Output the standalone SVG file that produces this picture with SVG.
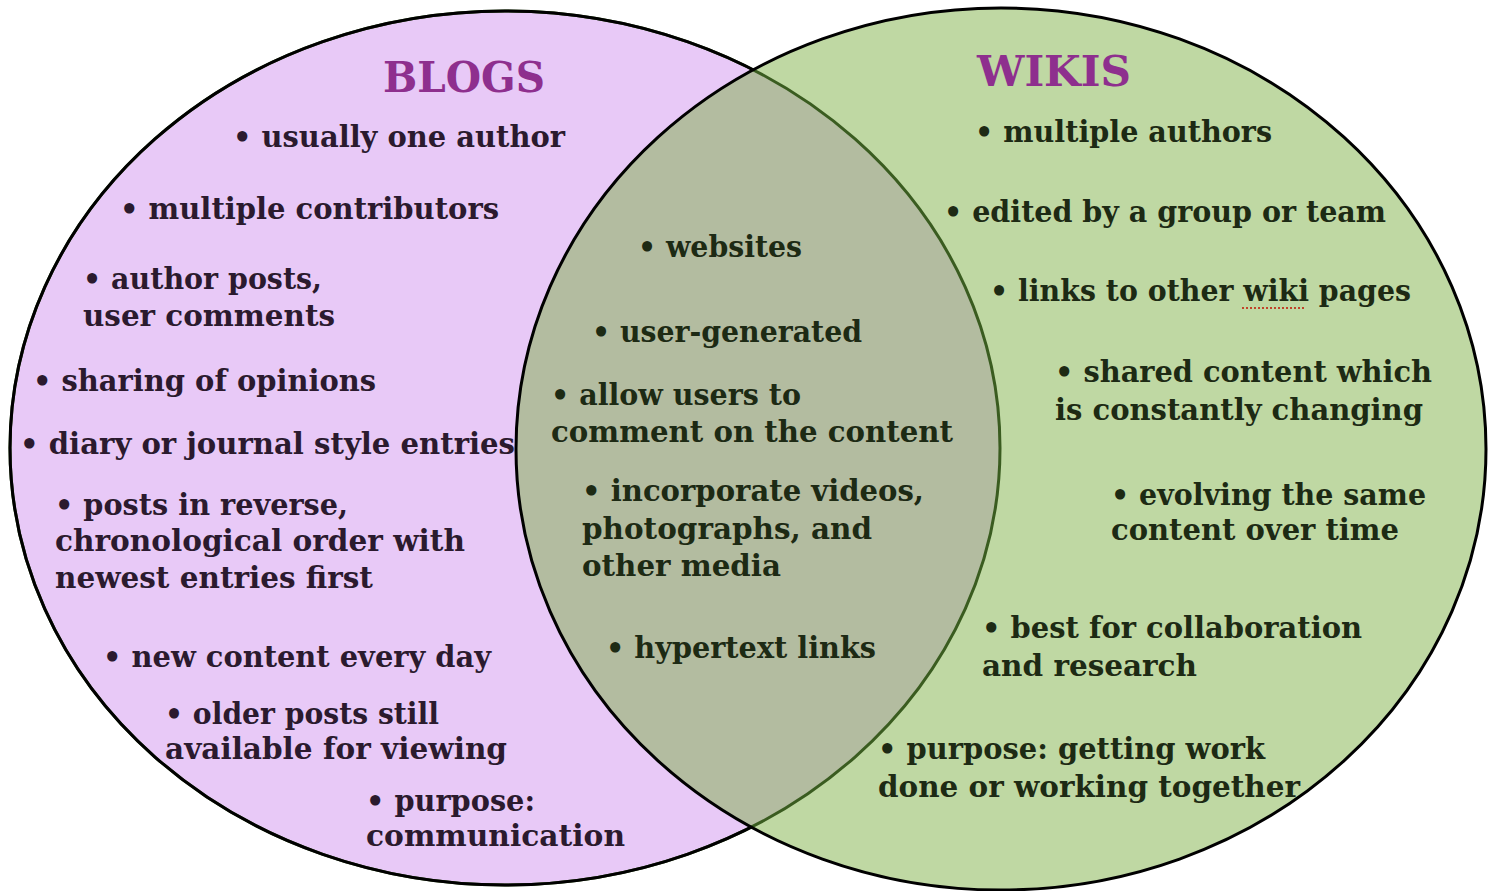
<svg xmlns="http://www.w3.org/2000/svg" width="1489" height="891" viewBox="0 0 1489 891">
<style>
.t{font-family:"DejaVu Serif","Liberation Serif",serif;font-weight:bold;font-size:29px}
.p{fill:#2b1a2e}
.g{fill:#1d2a14}
.h{font-family:"DejaVu Serif","Liberation Serif",serif;font-weight:bold;font-size:42px;fill:#8e2f8e}
</style>
<defs>
<clipPath id="inLeft"><ellipse cx="505" cy="448" rx="495" ry="437"/></clipPath>
<clipPath id="outRight"><path clip-rule="evenodd" d="M0,0 H1489 V891 H0 Z M516,449 a485,441 0 1,0 970,0 a485,441 0 1,0 -970,0 Z"/></clipPath>
</defs>
<g id="shapes">
<ellipse id="blogs-circle" cx="505" cy="448" rx="495" ry="437" fill="#e8c9f7"/>
<ellipse id="wikis-circle" cx="1001" cy="449" rx="485" ry="441" fill="#bfd8a3"/>
<ellipse id="overlap" cx="1001" cy="449" rx="485" ry="441" fill="#b3bca0" clip-path="url(#inLeft)"/>
<ellipse cx="505" cy="448" rx="495" ry="437" fill="none" stroke="#3a5c20" stroke-width="3"/>
<ellipse cx="505" cy="448" rx="495" ry="437" fill="none" stroke="#000" stroke-width="3" clip-path="url(#outRight)"/>
<ellipse cx="1001" cy="449" rx="485" ry="441" fill="none" stroke="#000" stroke-width="3"/>
</g>
<g id="blogs">
<text class="h" x="383" y="92" textLength="162" lengthAdjust="spacingAndGlyphs">BLOGS</text>
<text class="t p" x="233" y="147" textLength="332" lengthAdjust="spacingAndGlyphs">• usually one author</text>
<text class="t p" x="120" y="219" textLength="379" lengthAdjust="spacingAndGlyphs">• multiple contributors</text>
<text class="t p" x="83" y="289" textLength="239" lengthAdjust="spacingAndGlyphs">• author posts,</text>
<text class="t p" x="83" y="326" textLength="252" lengthAdjust="spacingAndGlyphs">user comments</text>
<text class="t p" x="33" y="391" textLength="343" lengthAdjust="spacingAndGlyphs">• sharing of opinions</text>
<text class="t p" x="20" y="454" textLength="495" lengthAdjust="spacingAndGlyphs">• diary or journal style entries</text>
<text class="t p" x="55" y="515" textLength="293" lengthAdjust="spacingAndGlyphs">• posts in reverse,</text>
<text class="t p" x="55" y="551" textLength="410" lengthAdjust="spacingAndGlyphs">chronological order with</text>
<text class="t p" x="55" y="588" textLength="318" lengthAdjust="spacingAndGlyphs">newest entries first</text>
<text class="t p" x="103" y="667" textLength="388" lengthAdjust="spacingAndGlyphs">• new content every day</text>
<text class="t p" x="165" y="724" textLength="274" lengthAdjust="spacingAndGlyphs">• older posts still</text>
<text class="t p" x="165" y="759" textLength="342" lengthAdjust="spacingAndGlyphs">available for viewing</text>
<text class="t p" x="366" y="811" textLength="169" lengthAdjust="spacingAndGlyphs">• purpose:</text>
<text class="t p" x="366" y="846" textLength="259" lengthAdjust="spacingAndGlyphs">communication</text>
</g>
<g id="both">
<text class="t g" x="638" y="257" textLength="164" lengthAdjust="spacingAndGlyphs">• websites</text>
<text class="t g" x="592" y="342" textLength="270" lengthAdjust="spacingAndGlyphs">• user-generated</text>
<text class="t g" x="551" y="405" textLength="250" lengthAdjust="spacingAndGlyphs">• allow users to</text>
<text class="t g" x="551" y="442" textLength="402" lengthAdjust="spacingAndGlyphs">comment on the content</text>
<text class="t g" x="582" y="501" textLength="342" lengthAdjust="spacingAndGlyphs">• incorporate videos,</text>
<text class="t g" x="582" y="539" textLength="290" lengthAdjust="spacingAndGlyphs">photographs, and</text>
<text class="t g" x="582" y="576" textLength="199" lengthAdjust="spacingAndGlyphs">other media</text>
<text class="t g" x="606" y="658" textLength="270" lengthAdjust="spacingAndGlyphs">• hypertext links</text>
</g>
<g id="wikis">
<text class="h" x="977" y="86" textLength="154" lengthAdjust="spacingAndGlyphs">WIKIS</text>
<text class="t g" x="975" y="142" textLength="297" lengthAdjust="spacingAndGlyphs">• multiple authors</text>
<text class="t g" x="944" y="222" textLength="442" lengthAdjust="spacingAndGlyphs">• edited by a group or team</text>
<text class="t g" x="990" y="301" textLength="421" lengthAdjust="spacingAndGlyphs">• links to other wiki pages</text>
<line x1="1242" y1="308" x2="1306" y2="308" stroke="#c0442a" stroke-width="2" stroke-dasharray="2,2"/>
<text class="t g" x="1055" y="382" textLength="377" lengthAdjust="spacingAndGlyphs">• shared content which</text>
<text class="t g" x="1055" y="420" textLength="368" lengthAdjust="spacingAndGlyphs">is constantly changing</text>
<text class="t g" x="1111" y="505" textLength="315" lengthAdjust="spacingAndGlyphs">• evolving the same</text>
<text class="t g" x="1111" y="540" textLength="288" lengthAdjust="spacingAndGlyphs">content over time</text>
<text class="t g" x="982" y="638" textLength="380" lengthAdjust="spacingAndGlyphs">• best for collaboration</text>
<text class="t g" x="982" y="676" textLength="215" lengthAdjust="spacingAndGlyphs">and research</text>
<text class="t g" x="878" y="759" textLength="387" lengthAdjust="spacingAndGlyphs">• purpose: getting work</text>
<text class="t g" x="878" y="797" textLength="422" lengthAdjust="spacingAndGlyphs">done or working together</text>
</g>
</svg>
